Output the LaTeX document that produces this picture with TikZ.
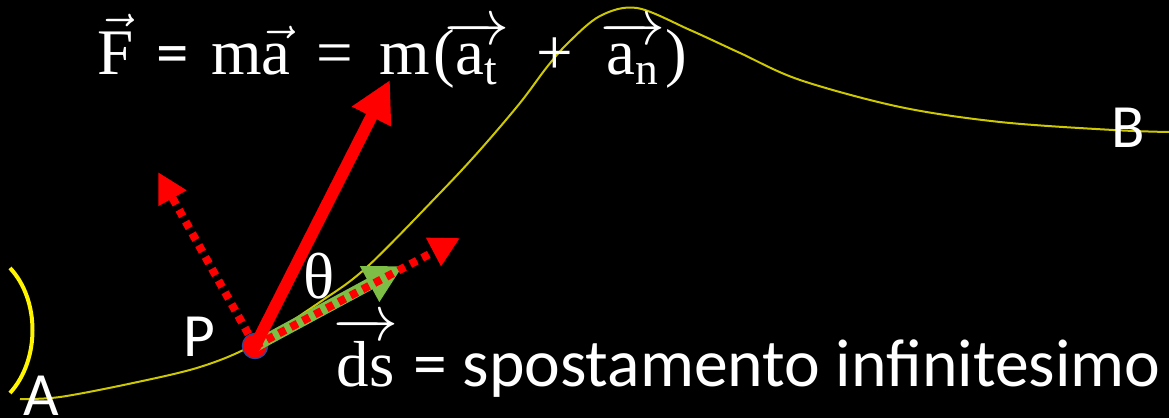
\RequirePackage{fix-cm}
\documentclass[tikz,border=0pt]{standalone}
\usepackage{fontspec}
\setsansfont{Carlito}
\newfontfamily\cambr{Liberation Serif}
\usepackage{amsmath}
\usepackage{tikz}
\usetikzlibrary{arrows.meta,positioning}
\definecolor{curveY}{RGB}{205,200,0}
\definecolor{braceY}{RGB}{255,245,0}
\definecolor{vecR}{RGB}{255,0,0}
\definecolor{vecG}{RGB}{125,190,70}
\definecolor{dotB}{RGB}{50,70,150}
\tikzset{
  lbl/.style={text=white, inner sep=0pt, font=\sffamily\fontsize{35}{35}\selectfont},
  formula/.style={text=white, inner sep=0pt, font=\cambr\fontsize{37}{37}\selectfont},
  traj/.style={curveY, line width=0.04cm},
  forcevec/.style={vecR, line width=0.24cm,
                   -{Triangle[length=0.82cm, width=0.82cm]}},
  compvec/.style={vecR, line width=0.16cm, dash pattern=on 0.15cm off 0.12cm,
                  -{Triangle[length=0.6cm, width=0.6cm]}},
  dsvec/.style={vecG, line width=0.24cm,
                -{Triangle[length=0.76cm, width=0.76cm]}},
  pdot/.style={circle, fill=vecR, draw=dotB, line width=0.03cm,
               minimum size=0.5cm, inner sep=0pt},
}

\begin{document}
\begin{tikzpicture}[x=0.02cm, y=-0.02cm]
  \useasboundingbox (0,0) rectangle (1169,418);
  \fill[black] (0,0) rectangle (1169,418);

  % trajectory from A to B
  \draw[traj] plot[smooth, tension=0.55] coordinates {
    (20,399) (60,397) (133,383) (200,367) (253,345) (320,302) (367,267)
    (440,193) (480,150) (520,103) (547,67) (568,43) (600,16) (637,8) (690,30) (740,53)
    (800,80) (900,107) (1000,122) (1113,130) (1169,132)};
  \draw[braceY, line width=0.08cm] (10,268) .. controls (40,300) and (40,360) .. (10,393);

  % end points
  \node[lbl] (A) at (41,396) {A};
  \node[lbl] (B) at (1128,128) {B};

  % tips of the vectors
  \coordinate (Ftip) at (390,80);
  \coordinate (ntip) at (158,172);
  \coordinate (ttip) at (460,238);
  \coordinate (dstip) at (403,266);

  % vectors at P
  \node[pdot] (P) at (255,346) {};
  \draw[dsvec] (P.center) -- (dstip);
  \draw[compvec] (P.center) -- (ttip);
  \draw[compvec] (P.center) -- (ntip);
  \draw[forcevec] (P.center) -- (Ftip);
  \fill[vecR] (P.center) ++(-2,-2) circle[radius=9];

  % labels
  \node[lbl] (Plbl) at (199,337) {P};
  \node[formula] (theta) at (319,276) {θ};
  \node[formula, anchor=base west] (Flbl) at (97,75)
    {$\vec{\text{F}}$\hspace{.35em}{\sffamily =}\hspace{.35em}m$\vec{\text{a}}$\hspace{.4em}=\hspace{.4em}m\hspace{.05em}($\!\overrightarrow{\text{a}_{\text{t}}}$\hspace{.42em}+\hspace{.42em}$\overrightarrow{\text{a}_{\text{n}}}$)};
  \node[lbl, anchor=base west, font=\sffamily\fontsize{38.5}{38.5}\selectfont] (dslbl) at (333,386)
    {{\cambr\fontsize{37}{37}\selectfont $\overrightarrow{\text{ds}}$} = spostamento infinitesimo};
\end{tikzpicture}
\end{document}
